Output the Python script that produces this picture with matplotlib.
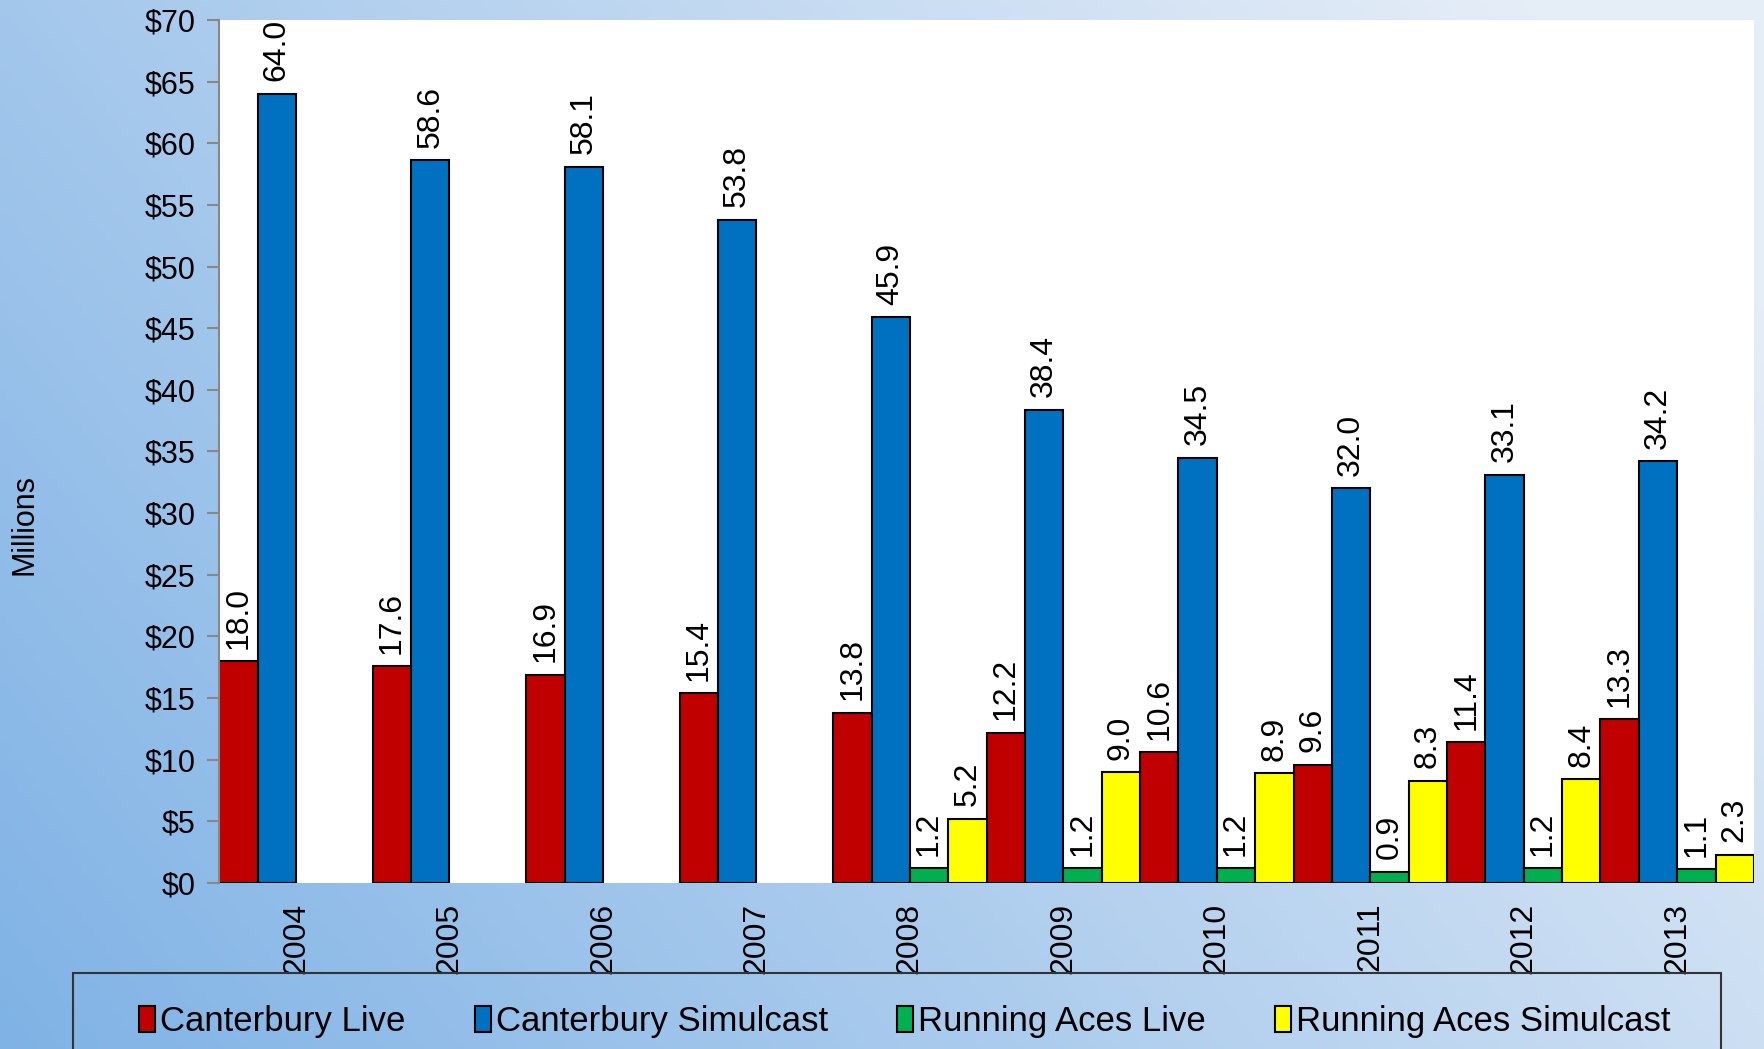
import numpy as np
import matplotlib.pyplot as plt
from matplotlib.patches import Rectangle

plt.rcParams['font.family'] = ['Liberation Sans', 'DejaVu Sans']

years = ['2004', '2005', '2006', '2007', '2008', '2009', '2010', '2011', '2012', '2013']
canterbury_live = [18.0, 17.6, 16.9, 15.4, 13.8, 12.2, 10.6, 9.6, 11.4, 13.3]
canterbury_sim = [64.0, 58.6, 58.1, 53.8, 45.9, 38.4, 34.5, 32.0, 33.1, 34.2]
aces_live = [None, None, None, None, 1.2, 1.2, 1.2, 0.9, 1.2, 1.1]
aces_sim = [None, None, None, None, 5.2, 9.0, 8.9, 8.3, 8.4, 2.3]

series = [
    ('Canterbury Live', canterbury_live, '#C00000'),
    ('Canterbury Simulcast', canterbury_sim, '#0070C0'),
    ('Running Aces Live', aces_live, '#00B050'),
    ('Running Aces Simulcast', aces_sim, '#FFFF00'),
]

fig = plt.figure(figsize=(17.64, 10.49), dpi=100)

# fondo degradado
bg = fig.add_axes([0, 0, 1, 1], zorder=-10)
gx, gy = np.meshgrid(np.linspace(0, 1, 300), np.linspace(0, 1, 200))
t = np.clip(0.75 * gx + 0.35 * (1 - gy), 0, 1)
c0 = np.array([0.50, 0.70, 0.90])
c1 = np.array([0.90, 0.93, 0.97])
img = c0 + (c1 - c0) * t[..., None]
bg.imshow(img, aspect='auto', extent=[0, 1, 0, 1], origin='upper')
bg.axis('off')

ax = fig.add_axes([0.1243, 0.1582, 0.8700, 0.8228])
ax.set_facecolor('white')

x = np.arange(len(years))
w = 0.25
for k, (name, vals, col) in enumerate(series):
    xs = [xi + (k - 1.5) * w for xi, v in zip(x, vals) if v is not None]
    vs = [v for v in vals if v is not None]
    ax.bar(xs, vs, w, color=col, edgecolor='black', linewidth=1.5, label=name)
    for xb, v in zip(xs, vs):
        ax.annotate(f'{v:.1f}', (xb, v), xytext=(0, 9), textcoords='offset points',
                    rotation=90, ha='center', va='bottom', fontsize=23)

ax.set_xlim(-0.5, len(years) - 0.5)
ax.set_ylim(0, 70)
ax.set_yticks(np.arange(0, 71, 5))
ax.set_yticklabels([f'${v}' for v in range(0, 71, 5)], fontsize=22)
ax.set_xticks(x)
ax.set_xticklabels(years, rotation=90, fontsize=23)
ax.tick_params(axis='x', length=0, pad=14)
ax.tick_params(axis='y', length=9, color='#888888', width=1.5, pad=8)
for s in ['top', 'right', 'bottom']:
    ax.spines[s].set_visible(False)
ax.spines['left'].set_color('#888888')
ax.spines['left'].set_linewidth(1.5)

fig.text(0.014, 0.50, 'Millions', rotation=90, ha='center', va='center', fontsize=22)

# caja de la leyenda
fig.patches.append(Rectangle((0.0414, -0.05), 0.9345, 0.1227, transform=fig.transFigure,
                             facecolor='none', edgecolor='#333333', linewidth=1.5))
handles, labels = ax.get_legend_handles_labels()
fig.legend(handles, labels, loc='center', bbox_to_anchor=(0.513, 0.026), ncol=4,
           frameon=False, fontsize=25, handlelength=0.45, handleheight=0.75,
           handletextpad=0.15, columnspacing=2.0)

fig.savefig('out.png', dpi=100)
